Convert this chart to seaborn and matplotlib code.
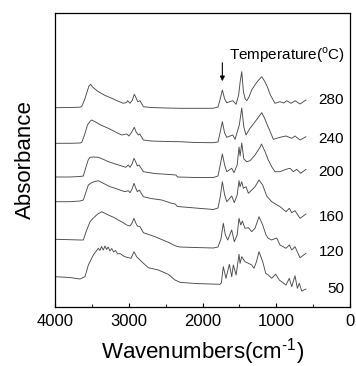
import pandas as pd
import seaborn as sns
import matplotlib.pyplot as plt
from matplotlib.ticker import MultipleLocator

# FTIR spectra at increasing temperature (offset, arbitrary absorbance units)
temps = ["50", "120", "160", "200", "240", "280"]

wn280 = [4000, 3800, 3660, 3638, 3600, 3570, 3540, 3516, 3490, 3413, 3320, 3231, 3150, 3074, 3030,
         3015, 2983, 2950, 2925, 2900, 2879, 2847, 2802, 2700, 2500, 2305, 2100, 1858, 1790, 1760,
         1731, 1700, 1671, 1590, 1545, 1510, 1490, 1468, 1445, 1420, 1400, 1370, 1333, 1290, 1250,
         1197, 1160, 1121, 1080, 1017, 950, 900, 858, 800, 745, 678, 597]
ab280 = [199.3, 199.5, 199.8, 200.5, 207, 214, 221, 222.7, 220, 215.3, 211.5, 208.7, 206, 203.7, 204.5,
         206.3, 203.7, 207, 212.7, 209, 205.3, 206.3, 200.3, 199.5, 199, 198.7, 198.7, 198.7, 200, 208,
         217, 208, 204.3, 206.3, 202.7, 212, 225, 235.3, 215, 208, 206.3, 210, 217, 222, 226,
         230.3, 226, 220.3, 212, 203.7, 205.3, 204, 206.3, 203.7, 206.3, 203, 207]

wn240 = [4000, 3800, 3660, 3638, 3600, 3560, 3520, 3503, 3458, 3380, 3277, 3180, 3096, 3028, 2997,
         2960, 2925, 2900, 2870, 2850, 2802, 2700, 2500, 2305, 2100, 1853, 1790, 1760, 1731, 1700,
         1671, 1590, 1559, 1501, 1468, 1440, 1410, 1356, 1300, 1250, 1197, 1160, 1121, 1080, 1040,
         949, 868, 790, 746, 678, 597]
ab240 = [163.7, 163.7, 164, 164.5, 172, 182, 186, 187, 185.3, 182, 178.7, 175, 172, 173, 171,
         175, 179.7, 175, 172, 173, 167, 166, 165.5, 165.3, 164.5, 164.3, 165, 175, 185.3, 174,
         169.7, 172, 167.7, 182, 199, 180, 172, 178.7, 184, 189, 194.3, 189, 182, 175, 167.7,
         169.7, 171, 168.7, 171, 167, 170.3]

wn200 = [4000, 3800, 3660, 3616, 3580, 3550, 3525, 3470, 3413, 3340, 3277, 3180, 3096, 3041, 3006,
         2983, 2955, 2929, 2905, 2884, 2861, 2802, 2650, 2450, 2360, 2340, 2100, 1853, 1790, 1760,
         1731, 1700, 1671, 1604, 1573, 1530, 1505, 1490, 1468, 1440, 1400, 1356, 1288, 1220, 1200,
         1152, 1108, 1060, 1017, 949, 868, 813, 768, 723, 668, 597]
ab200 = [130, 130, 130.5, 131, 140, 147, 149.7, 150, 149.7, 147.5, 145.3, 143, 141, 139.7, 142,
         139.7, 143, 148.7, 145, 141, 142, 135.3, 133.5, 132.5, 132, 130, 129.5, 129.5, 131, 142,
         153, 142, 135.3, 138.7, 134.3, 142, 160, 151, 164, 148, 145.3, 146.3, 152, 159.7, 163,
         155.3, 147, 140, 135.3, 135.3, 137.7, 138.7, 135.3, 137.7, 133.7, 137.7]

wn160 = [4000, 3800, 3660, 3616, 3580, 3548, 3500, 3467, 3413, 3345, 3260, 3186, 3100, 3051, 3006,
         2983, 2955, 2929, 2905, 2884, 2857, 2802, 2700, 2553, 2418, 2370, 2340, 2100, 1853, 1790,
         1760, 1731, 1700, 1671, 1604, 1569, 1530, 1505, 1491, 1468, 1446, 1410, 1378, 1333, 1288,
         1234, 1184, 1130, 1062, 949, 868, 823, 790, 746, 678, 597]
ab160 = [105.3, 105.3, 106, 107, 115, 122, 124.5, 125.3, 126.3, 123.7, 120.5, 118.7, 116.5, 115.3, 116.3,
         114.3, 118, 123.7, 119, 115.3, 117, 110.3, 108.5, 107, 103.7, 103, 100.5, 99, 97.5, 99,
         110, 125.3, 112, 105.3, 111, 104.3, 112, 126.3, 120.3, 125.3, 118.7, 120.3, 113.7, 117, 120.3,
         127, 122, 111, 105.3, 100.3, 95.3, 98.7, 94.3, 96.3, 88.7, 93]

wn120 = [4000, 3800, 3660, 3616, 3580, 3548, 3525, 3480, 3420, 3367, 3320, 3277, 3200, 3142, 3080,
         3028, 2983, 2955, 2929, 2905, 2884, 2847, 2802, 2644, 2464, 2373, 2340, 2305, 2100, 1853,
         1790, 1750, 1718, 1690, 1658, 1604, 1569, 1530, 1505, 1482, 1460, 1424, 1378, 1333, 1288,
         1234, 1184, 1139, 1108, 1062, 1030, 994, 949, 868, 823, 790, 746, 678, 597]
ab120 = [67.7, 67.3, 67, 67, 75, 81, 85.3, 89, 93, 95.3, 93.5, 92, 89.5, 87, 84.5,
         82, 81, 84, 88.7, 84, 81, 80.3, 74.3, 70.3, 64.7, 61.3, 60.5, 60, 59.5, 59,
         60, 68, 83.7, 72, 67, 77, 65.3, 72, 88.7, 82, 86, 78.7, 79.3, 75.3, 78.7,
         90.3, 82, 72, 68.7, 67, 68, 69, 62, 58.7, 62, 57, 60.3, 49.3, 53.7]

wn50 = [4000, 3800, 3661, 3593, 3548, 3480, 3413, 3390, 3370, 3345, 3322, 3300, 3280, 3255, 3231,
        3205, 3180, 3150, 3119, 3060, 3006, 2970, 2929, 2893, 2825, 2734, 2599, 2464, 2373, 2305,
        2100, 1763, 1745, 1718, 1682, 1636, 1604, 1582, 1545, 1505, 1491, 1468, 1424, 1378, 1333,
        1302, 1270, 1234, 1184, 1143, 1108, 1062, 1008, 959, 868, 823, 790, 746, 714, 688, 655, 597]
ab50 = [30.3, 29.5, 28, 30.3, 42, 52, 58.7, 56.5, 60.5, 57, 61, 57.5, 60, 56, 58.5,
        55, 56.5, 53, 53.5, 50.5, 49.3, 48.7, 55.3, 50.3, 45.3, 39.3, 37, 32.7, 27, 24.7,
        23.5, 22.7, 24, 40.3, 28.7, 42.7, 30.3, 42, 32, 52.7, 43.7, 50.3, 45.3, 43.7, 42,
        38.7, 45, 55.3, 45.3, 33.7, 32, 28.7, 32.7, 27, 22, 28.7, 20.3, 31.3, 18.7, 23.7, 16, 18]

spectra = {"50": (wn50, ab50), "120": (wn120, ab120), "160": (wn160, ab160),
           "200": (wn200, ab200), "240": (wn240, ab240), "280": (wn280, ab280)}
label_y = [18, 54.5, 90, 135.3, 168, 206.5]

frames = []
for t in temps:
    w, a = spectra[t]
    frames.append(pd.DataFrame({"wavenumber": w, "absorbance": a, "temp": t}))
df = pd.concat(frames, ignore_index=True)

sns.set_theme(style="ticks")
plt.rcParams['font.family'] = ['Liberation Sans', 'DejaVu Sans']
plt.rcParams['mathtext.fontset'] = 'custom'
plt.rcParams['mathtext.rm'] = 'Liberation Sans'

fig = plt.figure(figsize=(3.56, 3.66), dpi=100)
ax = fig.add_axes([0.1545, 0.1612, 0.8287, 0.8033])

sns.lineplot(data=df, x="wavenumber", y="absorbance", units="temp", estimator=None,
             sort=False, color="#4a4a4a", lw=0.65, ax=ax, legend=False)

ax.set_xlim(4000, 0)
ax.set_ylim(0, 294)
ax.xaxis.set_major_locator(MultipleLocator(1000))
ax.xaxis.set_minor_locator(MultipleLocator(500))
ax.set_yticks([])
ax.tick_params(axis='x', which='major', direction='in', length=3, width=0.8,
               labelsize=12, pad=5, colors='black')
ax.tick_params(axis='x', which='minor', direction='in', length=2, width=0.8)
for s in ax.spines.values():
    s.set_color('black')
    s.set_linewidth(0.9)

ax.set_xlabel('Wavenumbers(cm$^{\\text{-1}}$)', fontsize=16, labelpad=5, color='black')
ax.set_ylabel('Absorbance', fontsize=16, labelpad=14, color='black')

for t, y in zip(temps, label_y):
    ax.text(80, y, t, ha='right', va='center', fontsize=11, color='black')
ax.text(68, 252, 'Temperature($^{\\text{o}}$C)', ha='right', va='center', fontsize=11, color='black')

ax.annotate('', xy=(1731, 223), xytext=(1731, 247),
            arrowprops=dict(arrowstyle='-|>', color='black', lw=0.8, mutation_scale=7))

fig.savefig('out.png', dpi=100)
